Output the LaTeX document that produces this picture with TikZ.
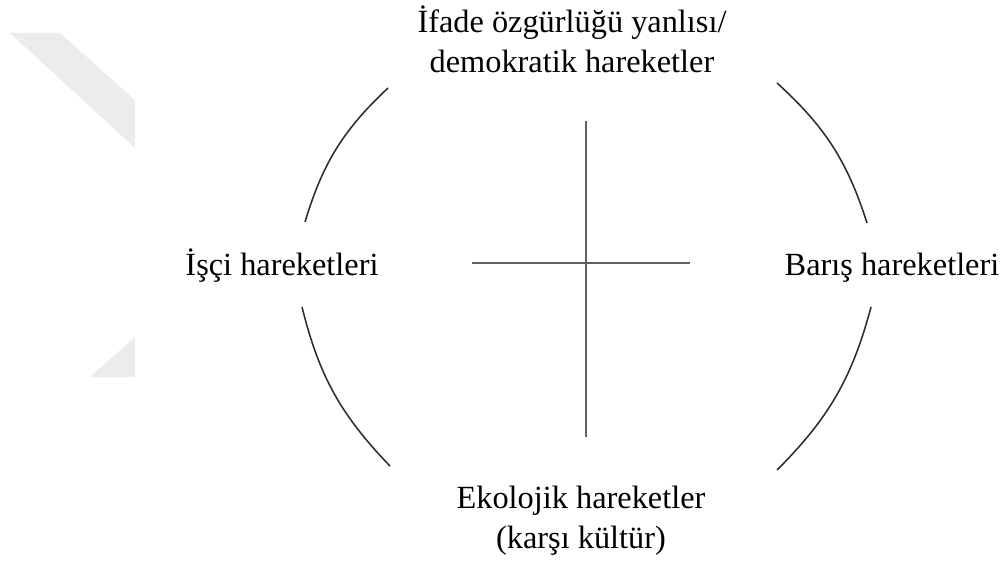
\documentclass[tikz,border=0pt]{standalone}
\usepackage{fontspec}
\setmainfont{Liberation Serif}
\definecolor{MarkClr}{RGB}{236,236,236}
\definecolor{LineClr}{RGB}{45,45,45}

\begin{document}
\begin{tikzpicture}[x=0.025cm,y=-0.025cm]
\tikzset{arcline/.style={line width=1.1pt,color=LineClr},
  crossline/.style={line width=0.9pt,color=LineClr!75},
  label/.style={font=\fontsize{23}{28.6}\selectfont,align=center,inner sep=0pt}}
\useasboundingbox (0,0) rectangle (1003,564);

% watermark
\fill[MarkClr] (10,33) -- (60,33) -- (135,100) -- (135,148) -- cycle;
\fill[MarkClr] (90,377) -- (135,337) -- (135,377) -- cycle;

\coordinate (TLa) at (388,88);  \coordinate (TLb) at (305,222);
\coordinate (BLa) at (302,307); \coordinate (BLb) at (390,466);
\coordinate (BRa) at (777,470); \coordinate (BRb) at (871,307);
\coordinate (TRa) at (867,223); \coordinate (TRb) at (777,83);

\coordinate (Vt) at (586,121); \coordinate (Vb) at (586,437);
\coordinate (Hl) at (472,263); \coordinate (Hr) at (690,263);

\draw[arcline] (TLa) to[bend right=15] (TLb);
\draw[arcline] (BLa) to[bend right=15] (BLb);
\draw[arcline] (BRa) to[bend right=15] (BRb);
\draw[arcline] (TRa) to[bend right=15] (TRb);

\draw[crossline] (Vt) -- (Vb);
\draw[crossline] (Hl) -- (Hr);

\node[label] (freedom) at (572,39) {İfade özgürlüğü yanlısı/\\demokratik hareketler};
\node[label,anchor=base] (labour) at (282,275) {İşçi hareketleri};
\node[label,anchor=base] (peace) at (892,275) {Barış hareketleri};
\node[label] (ecology) at (581,521) {Ekolojik hareketler\\(karşı kültür)};

\end{tikzpicture}
\end{document}
